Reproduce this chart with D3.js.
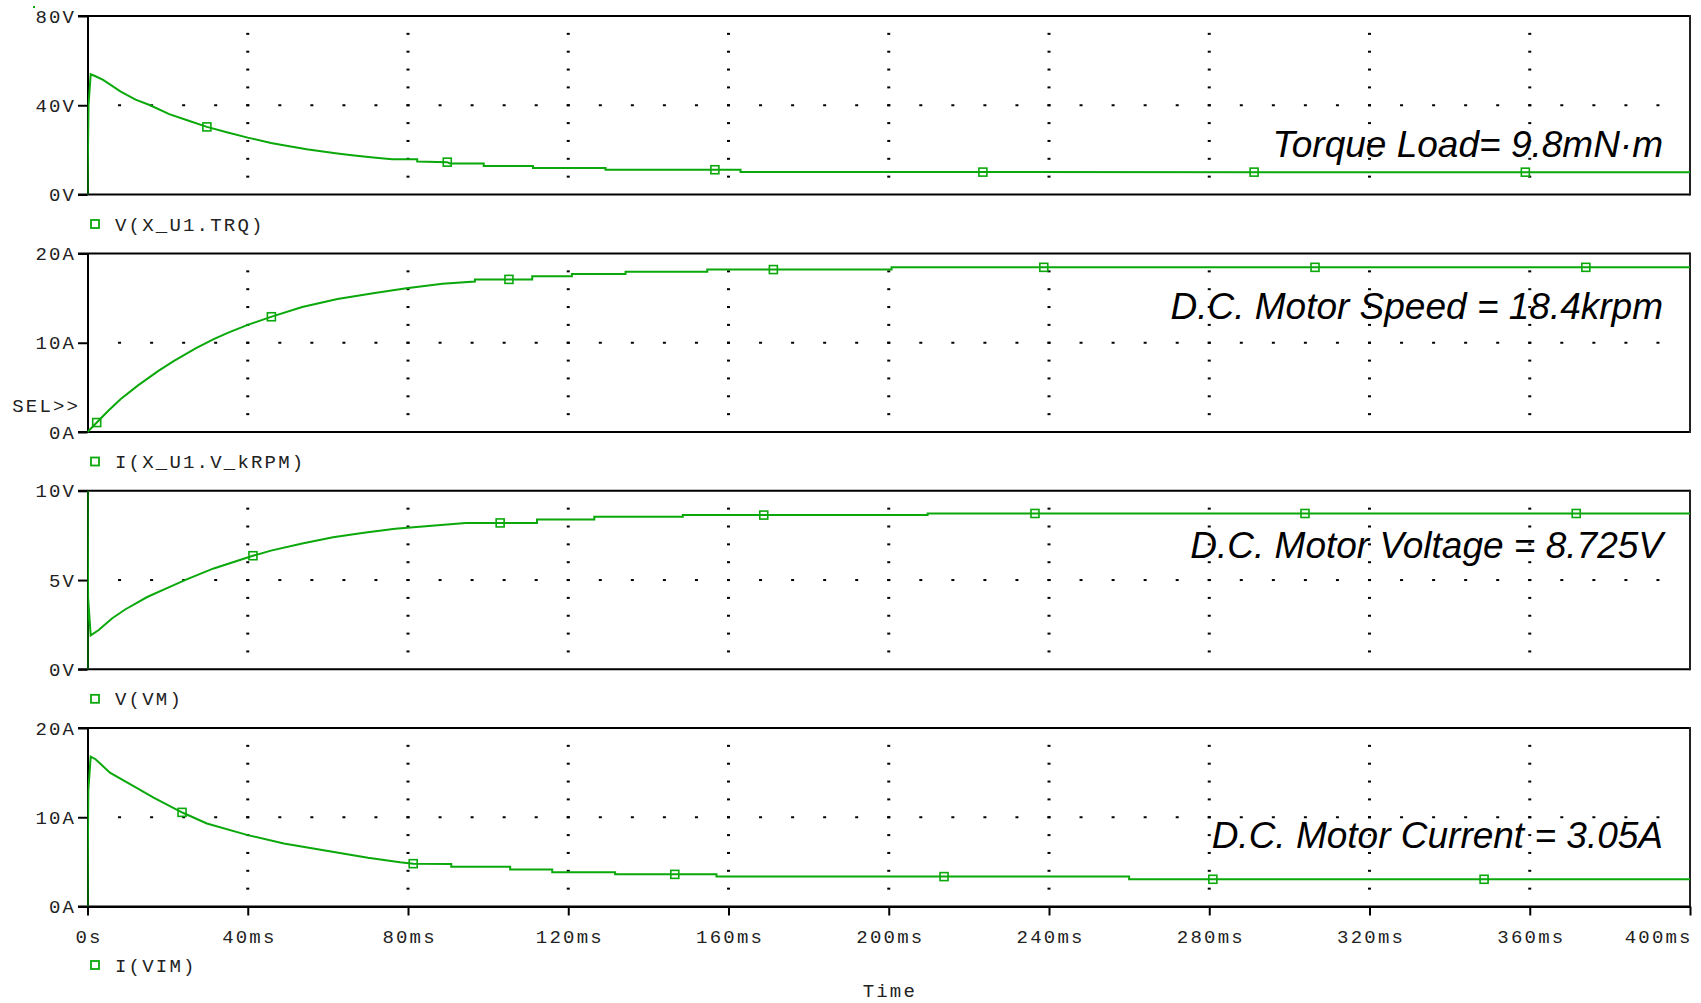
<!DOCTYPE html>
<html><head><meta charset="utf-8">
<script src="https://cdn.jsdelivr.net/npm/d3@7"></script>
<style>
html,body{margin:0;padding:0;background:#fff;}
svg{display:block;}
.mono{font-family:"Liberation Mono","Courier New",monospace;font-size:19px;letter-spacing:2.2px;fill:#222;}
.note{font-family:"Liberation Sans",Arial,sans-serif;font-style:italic;font-size:37px;fill:#000;}
</style></head><body>
<svg id="chart" width="1701" height="1003"></svg>
<script>
// ---------------- data ----------------
const timeTicks = [0,40,80,120,160,200,240,280,320,360,400];
const timeLabels = ["0s","40ms","80ms","120ms","160ms","200ms","240ms","280ms","320ms","360ms","400ms"];

const seriesNames = ["V(X_U1.TRQ)","I(X_U1.V_kRPM)","V(VM)","I(VIM)"];
const yMax = [80,20,10,20];
const yTicks = [[0,40,80],[0,10,20],[0,5,10],[0,10,20]];
const yTickLabels = [["0V","40V","80V"],["0A","10A","20A"],["0V","5V","10V"],["0A","10A","20A"]];
const notes = ["Torque Load= 9.8mN·m","D.C. Motor Speed = 18.4krpm","D.C. Motor Voltage = 8.725V","D.C. Motor Current = 3.05A"];

// time (ms), value
const trqData = [[0,0],[0.25,40],[0.8,53.9],[2,53],[3.9,51.4],[8.3,46.1],[12,42.5],[15.5,40.1],[20.4,36.0],[24.9,33.3],[29.8,30.3],[35,27.8],[40,25.5],[45.8,23.1],[50,21.7],[54.7,20.3],[61.9,18.5],[66,17.6],[70.7,16.7],[76,15.8],[82.3,15.8],[82.3,14.8],[89.8,14.5],[90.5,13.9],[98.9,13.9],[98.9,12.8],[111.2,12.8],[111.2,11.9],[129.3,11.9],[129.3,11.1],[163,11.1],[163,10.05],[400,10.0]];
const spdData = [[0,0],[2.5,1.15],[5,2.3],[8.3,3.7],[12.7,5.25],[17.7,6.85],[21.5,7.95],[27.1,9.4],[31.5,10.4],[35,11.1],[40,12.0],[45.8,12.9],[53.6,14.0],[62.4,14.9],[71.3,15.55],[79.6,16.1],[88.6,16.6],[96.7,16.85],[96.7,17.1],[111,17.1],[111,17.45],[120.9,17.45],[120.9,17.7],[134.3,17.7],[134.3,17.95],[154.7,17.95],[154.7,18.2],[200.7,18.2],[200.7,18.45],[400,18.45]];
const vmData = [[0,0],[0.02,10],[0.15,4],[0.8,1.9],[2.8,2.2],[6.1,2.85],[9.4,3.35],[14.9,4.05],[20.4,4.6],[24.9,5.05],[31.5,5.65],[41.1,6.35],[45.8,6.65],[53.6,7.05],[61.3,7.4],[69,7.65],[76.8,7.87],[86.7,8.05],[94.4,8.2],[112.2,8.2],[112.2,8.39],[126.5,8.39],[126.5,8.54],[148.6,8.54],[148.6,8.64],[209.7,8.64],[209.7,8.73],[400,8.73]];
const imData = [[0,0],[0.2,13],[0.8,16.8],[2,16.5],[5.6,15.0],[11.5,13.5],[16.5,12.2],[23.8,10.5],[29.8,9.3],[40,8.0],[49,7.05],[61.5,6.1],[70,5.45],[78,4.95],[81.3,4.8],[90.8,4.75],[90.8,4.45],[105.5,4.45],[105.5,4.15],[116,4.15],[116,3.85],[131.7,3.85],[131.7,3.6],[157,3.6],[157,3.35],[260,3.35],[260,3.05],[400,3.05]];

const trqMarkers = [29.8,89.8,156.6,223.5,291.2,358.9];
const spdMarkers = [2.3,45.9,105.2,171.2,238.7,306.4,374];
const vmMarkers = [41.3,103,168.8,236.5,303.9,371.6];
const imMarkers = [23.6,81.3,146.6,213.8,280.9,348.6];

const allData = [trqData,spdData,vmData,imData];
const allMarkers = [trqMarkers,spdMarkers,vmMarkers,imMarkers];

// ---------------- layout ----------------
const GREEN = "#0aa80a";
const LS = 2.2;
const svg = d3.select("#chart");
const x0 = 87.5, x1 = 1690;
const tops = [16,253.5,490.8,728];
const H = 178.5;
const noteOffsets = [141,65.5,67.5,120];
const x = d3.scaleLinear().domain([0,400]).range([x0,x1]);

function valueAt(data,t){
  for(let i=1;i<data.length;i++){
    const a=data[i-1], b=data[i];
    if(t>=a[0] && t<=b[0]){
      if(b[0]===a[0]) return b[1];
      return a[1]+(b[1]-a[1])*(t-a[0])/(b[0]-a[0]);
    }
  }
  return data[data.length-1][1];
}

tops.forEach((top,p)=>{
  const bottom = top+H;
  const y = d3.scaleLinear().domain([0,yMax[p]]).range([bottom,top]);
  const g = svg.append("g");

  // grid dots: vertical lines
  const vt = timeTicks.filter(t=>t>0 && t<400);
  const fr = d3.range(1,10).map(i=>i/10);
  vt.forEach(t=>{
    fr.forEach(f=>{
      g.append("rect").attr("x",x(t)-1.5).attr("y",top+f*H-1).attr("width",3).attr("height",2).attr("fill","#000");
    });
  });
  // horizontal middle line dots
  const mid = yTicks[p][1];
  d3.range(8,400,8).forEach(t=>{
    g.append("rect").attr("x",x(t)-1.5).attr("y",y(mid)-1).attr("width",3).attr("height",2).attr("fill","#000");
  });

  // borders
  g.append("line").attr("x1",x0-9.5).attr("x2",x1).attr("y1",top).attr("y2",top).attr("stroke","#000").attr("stroke-width",2);
  g.append("line").attr("x1",x0-9.5).attr("x2",x1).attr("y1",bottom).attr("y2",bottom).attr("stroke","#000").attr("stroke-width",2);
  g.append("line").attr("x1",x1).attr("x2",x1).attr("y1",top-1).attr("y2",bottom+1).attr("stroke","#222").attr("stroke-width",2);

  // left axis
  const ax = d3.axisLeft(y).tickValues(yTicks[p]).tickFormat((d,i)=>yTickLabels[p][i]).tickSizeInner(9.5).tickSizeOuter(0).tickPadding(4);
  const ga = g.append("g").attr("transform",`translate(${x0},0)`).call(ax);
  ga.attr("font-size",null).attr("font-family",null);
  ga.select(".domain").attr("stroke","#000").attr("stroke-width",2);
  ga.selectAll(".tick line").attr("stroke","#000").attr("stroke-width",2);
  ga.selectAll(".tick text").attr("class","mono").attr("fill","#222").attr("dx",LS);

  // bottom axis for last panel
  if(p===3){
    const bx = d3.axisBottom(x).tickValues(timeTicks).tickFormat((d,i)=>timeLabels[i]).tickSizeInner(9).tickSizeOuter(0).tickPadding(14);
    const gb = g.append("g").attr("transform",`translate(0,${bottom})`).call(bx);
    gb.attr("font-size",null).attr("font-family",null);
    gb.select(".domain").attr("stroke","#000").attr("stroke-width",2);
    gb.selectAll(".tick line").attr("stroke","#000").attr("stroke-width",2);
    gb.selectAll(".tick text").attr("class","mono").attr("fill","#222").attr("dx",LS/2);
    // last label is kept inside the frame (right-aligned to the border)
    gb.selectAll(".tick text").filter(d=>d===400).attr("text-anchor","end").attr("dx",LS);
  }

  // clip
  const cid = "clip"+p;
  svg.append("clipPath").attr("id",cid).append("rect").attr("x",x0).attr("y",top-1).attr("width",x1-x0).attr("height",H+2);

  // trace
  const line = d3.line().x(d=>x(d[0])).y(d=>y(d[1]));
  g.append("path").datum(allData[p]).attr("clip-path",`url(#${cid})`)
    .attr("d",line).attr("fill","none").attr("stroke",GREEN).attr("stroke-width",2).attr("stroke-linejoin","miter");

  // markers
  g.selectAll(".mk").data(allMarkers[p]).enter().append("rect")
    .attr("x",t=>x(t)-4).attr("y",t=>y(valueAt(allData[p],t))-4)
    .attr("width",8).attr("height",8).attr("fill","none").attr("stroke",GREEN).attr("stroke-width",1.6);

  // annotation
  g.append("text").attr("class","note").attr("x",1663).attr("y",top+noteOffsets[p]).attr("text-anchor","end").text(notes[p]);

  // legend
  const ly = p===3 ? bottom+58.5 : bottom+29.5;
  g.append("rect").attr("x",91).attr("y",ly-4).attr("width",8).attr("height",8).attr("fill","none").attr("stroke",GREEN).attr("stroke-width",1.8);
  g.append("text").attr("class","mono").attr("x",115).attr("y",ly).attr("dy","0.35em").text(seriesNames[p]);
});

// SEL>> marker
svg.append("text").attr("class","mono").attr("x",78+LS).attr("y",405).attr("dy","0.35em").attr("text-anchor","end").text("SEL>>");
// Time label
svg.append("text").attr("class","mono").attr("x",x(200)+LS/2).attr("y",990).attr("dy","0.35em").attr("text-anchor","middle").text("Time");
// small cursor dot
svg.append("rect").attr("x",33).attr("y",6).attr("width",2).attr("height",2).attr("fill",GREEN);
</script>
</body></html>
